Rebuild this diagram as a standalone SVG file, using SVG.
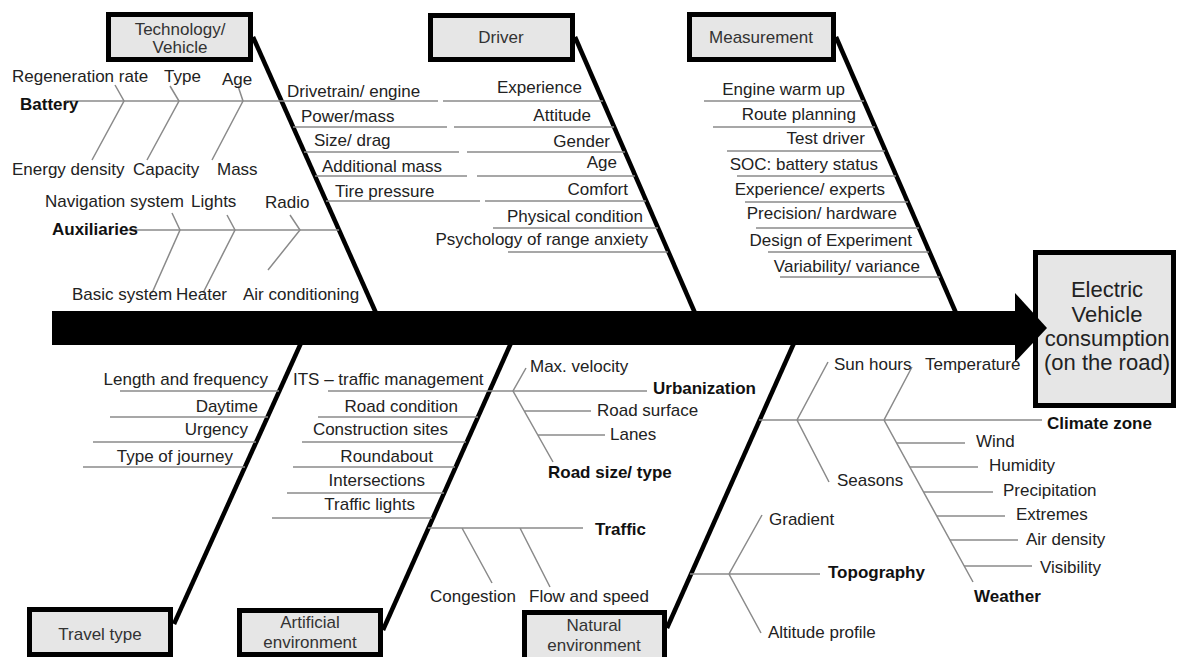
<svg xmlns="http://www.w3.org/2000/svg" width="1180" height="657" viewBox="0 0 1180 657">
<style>
.t{font-family:"Liberation Sans",Arial,sans-serif;font-size:17px;fill:#222}
.b{font-weight:bold;fill:#111}
.e{text-anchor:end}
.m{text-anchor:middle}
.bl{fill:#333}
.ln{stroke:#8a8a8a;stroke-width:1.5;fill:none}
.bone{stroke:#000;stroke-width:4.5;fill:none}
.box{fill:#e6e6e6;stroke:#000;stroke-width:5}
.eff{font-size:22px}
</style>
<rect width="1180" height="657" fill="#fff"/>

<g id="connectors">
  <path class="bone" d="M253 37 L376 313"/>
  <path class="bone" d="M575 37 L695 313"/>
  <path class="bone" d="M836 37 L956 313"/>
  <path class="bone" d="M301 343 L174 624"/>
  <path class="bone" d="M511 343 L383 630"/>
  <path class="bone" d="M794 343 L667 628"/>
</g>

<g id="effect">
  <rect class="box" x="1035.5" y="252.5" width="138" height="153"/>
  <text class="t eff m" x="1107" y="297">Electric</text>
  <text class="t eff m" x="1107" y="322">Vehicle</text>
  <text class="t eff m" x="1107" y="346">consumption</text>
  <text class="t eff m" x="1107" y="370">(on the road)</text>
</g>

<g id="spine">
  <rect x="52" y="311" width="965" height="34" fill="#000"/>
  <polygon points="1015,293 1047,328 1015,362" fill="#000"/>
</g>

<g id="technology">
  <rect class="box" x="108.5" y="14.5" width="142" height="45"/>
  <text class="t bl m" x="180" y="35">Technology/</text>
  <text class="t bl m" x="180" y="53">Vehicle</text>
  <path class="ln" d="M65 101 H438"/>
  <path class="ln" d="M115 85 L124 101 L92 160 M170 86 L179 101 L147 160 M238 86 L243 101 L212 160"/>
  <text class="t b" x="20" y="110">Battery</text>
  <text class="t" x="12" y="82">Regeneration rate</text>
  <text class="t" x="164" y="82">Type</text>
  <text class="t" x="222" y="85">Age</text>
  <text class="t" x="12" y="175">Energy density</text>
  <text class="t" x="133" y="175">Capacity</text>
  <text class="t" x="217" y="175">Mass</text>
  <path class="ln" d="M125 230 H339"/>
  <path class="ln" d="M172 213 L180 230 L152 293 M227 215 L235 230 L203 293 M290 215 L300 230 L268 270"/>
  <text class="t b" x="52" y="235">Auxiliaries</text>
  <text class="t" x="45" y="207">Navigation system</text>
  <text class="t" x="191" y="207">Lights</text>
  <text class="t" x="265" y="208">Radio</text>
  <text class="t" x="72" y="300">Basic system</text>
  <text class="t" x="176" y="300">Heater</text>
  <text class="t" x="243" y="300">Air conditioning</text>
  <path class="ln" d="M293 127 H447 M304 152 H459 M315 176 H467 M326 201 H480"/>
  <text class="t" x="287" y="97">Drivetrain/ engine</text>
  <text class="t" x="301" y="122">Power/mass</text>
  <text class="t" x="314" y="146">Size/ drag</text>
  <text class="t" x="322" y="172">Additional mass</text>
  <text class="t" x="335" y="197">Tire pressure</text>
</g>

<g id="driver">
  <rect class="box" x="430.5" y="15.5" width="142" height="44"/>
  <text class="t bl m" x="501" y="43">Driver</text>
  <path class="ln" d="M443 101 H603 M454 127 H614 M467 152 H625 M477 176 H635 M485 201 H646 M493 228 H658 M508 252 H668"/>
  <text class="t e" x="582" y="93">Experience</text>
  <text class="t e" x="591" y="121">Attitude</text>
  <text class="t e" x="610" y="147">Gender</text>
  <text class="t e" x="617" y="168">Age</text>
  <text class="t e" x="628" y="195">Comfort</text>
  <text class="t e" x="643" y="222">Physical condition</text>
  <text class="t e" x="648" y="245">Psychology of range anxiety</text>
</g>

<g id="measurement">
  <rect class="box" x="689.5" y="14.5" width="144" height="45"/>
  <text class="t bl m" x="761" y="43">Measurement</text>
  <path class="ln" d="M704 101 H864 M713 127 H875 M727 151 H885 M737 176 H896 M745 202 H908 M756 228 H919 M768 252 H929 M780 277 H940"/>
  <text class="t e" x="845" y="95">Engine warm up</text>
  <text class="t e" x="856" y="120">Route planning</text>
  <text class="t e" x="865" y="144">Test driver</text>
  <text class="t e" x="878" y="170">SOC: battery status</text>
  <text class="t e" x="885" y="195">Experience/ experts</text>
  <text class="t e" x="897" y="219">Precision/ hardware</text>
  <text class="t e" x="912" y="246">Design of Experiment</text>
  <text class="t e" x="920" y="272">Variability/ variance</text>
</g>

<g id="travel-type">
  <rect class="box" x="29.5" y="609.5" width="141" height="45"/>
  <text class="t bl m" x="100" y="640">Travel type</text>
  <path class="ln" d="M120 391 H279 M110 417 H268 M93 442 H256 M83 467 H245"/>
  <text class="t e" x="268" y="385">Length and frequency</text>
  <text class="t e" x="258" y="412">Daytime</text>
  <text class="t e" x="248" y="435">Urgency</text>
  <text class="t e" x="233" y="462">Type of journey</text>
</g>

<g id="artificial-environment">
  <rect class="box" x="239.5" y="610.5" width="141" height="44"/>
  <text class="t bl m" x="310" y="628">Artificial</text>
  <text class="t bl m" x="310" y="648">environment</text>
  <path class="ln" d="M328 391 H647 M318 417 H478 M302 442 H466 M293 467 H455 M287 493 H444 M272 518 H432"/>
  <text class="t" x="293" y="385">ITS – traffic management</text>
  <text class="t e" x="458" y="412">Road condition</text>
  <text class="t e" x="448" y="435">Construction sites</text>
  <text class="t e" x="433" y="462">Roundabout</text>
  <text class="t e" x="425" y="486">Intersections</text>
  <text class="t e" x="415" y="510">Traffic lights</text>
  <path class="ln" d="M526 368 L513 391 L553 462 M524 411 H591 M538 435 H605"/>
  <text class="t b" x="653" y="394">Urbanization</text>
  <text class="t" x="530" y="372">Max. velocity</text>
  <text class="t" x="597" y="416">Road surface</text>
  <text class="t" x="610" y="440">Lanes</text>
  <text class="t b" x="548" y="478">Road size/ type</text>
  <path class="ln" d="M428 528 H583 M462 528 L492 583 M520 528 L550 587"/>
  <text class="t b" x="595" y="535">Traffic</text>
  <text class="t" x="430" y="602">Congestion</text>
  <text class="t" x="529" y="602">Flow and speed</text>
</g>

<g id="natural-environment">
  <rect class="box" x="524.5" y="612.5" width="140" height="56"/>
  <text class="t bl m" x="594" y="631">Natural</text>
  <text class="t bl m" x="594" y="651">environment</text>
  <path class="ln" d="M759 420 H1042 M828 362 L797 420 L829 482 M912 367 L884 420 L973 582"/>
  <path class="ln" d="M897 443 H965 M910 467 H978 M924 492 H993 M937 516 H1005 M950 540 H1018 M964 566 H1032"/>
  <text class="t b" x="1047" y="429">Climate zone</text>
  <text class="t" x="834" y="370">Sun hours</text>
  <text class="t" x="925" y="370">Temperature</text>
  <text class="t" x="837" y="486">Seasons</text>
  <text class="t b" x="974" y="602">Weather</text>
  <text class="t" x="976" y="447">Wind</text>
  <text class="t" x="989" y="471">Humidity</text>
  <text class="t" x="1003" y="496">Precipitation</text>
  <text class="t" x="1016" y="520">Extremes</text>
  <text class="t" x="1026" y="545">Air density</text>
  <text class="t" x="1040" y="573">Visibility</text>
  <path class="ln" d="M690 574 H820 M762 515 L729 574 L761 633"/>
  <text class="t b" x="828" y="578">Topography</text>
  <text class="t" x="769" y="525">Gradient</text>
  <text class="t" x="768" y="638">Altitude profile</text>
</g>
</svg>
